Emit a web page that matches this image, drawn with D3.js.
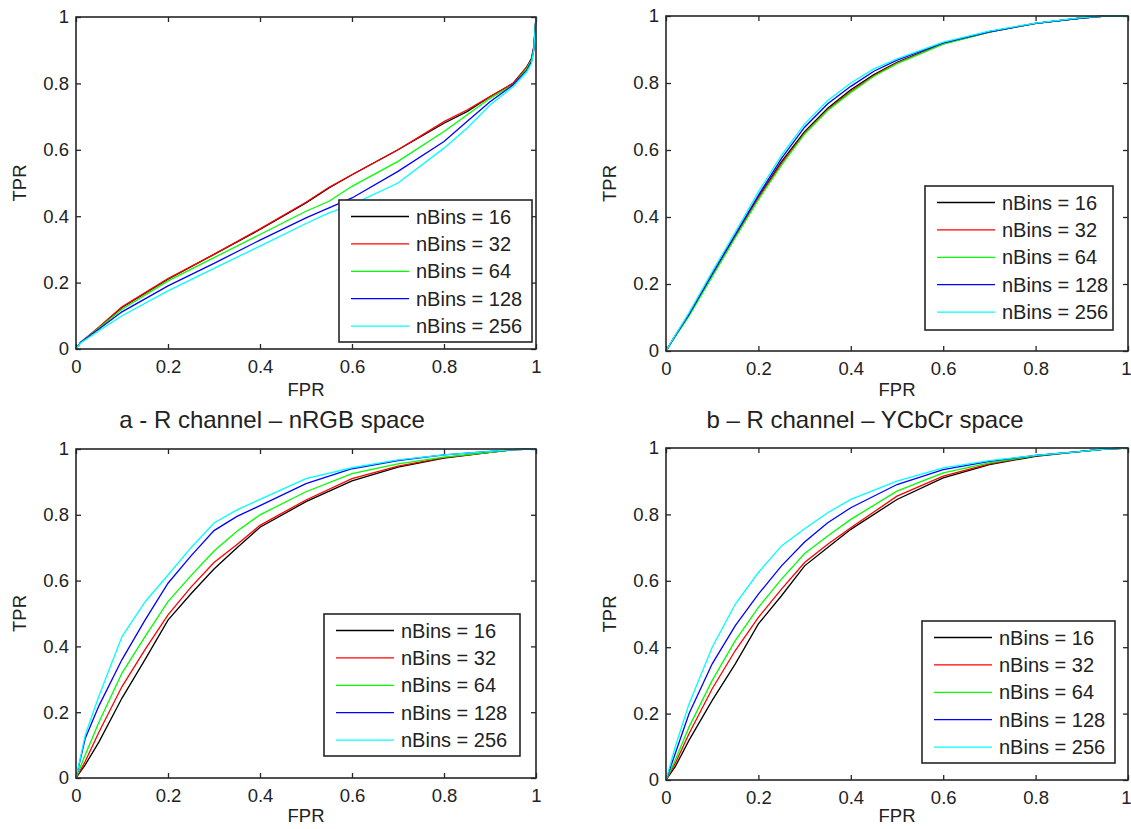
<!DOCTYPE html>
<html>
<head>
<meta charset="utf-8">
<script src="https://cdn.jsdelivr.net/npm/d3@7"></script>
<style>
  body { margin: 0; background: #fff; }
  svg text { font-family: "Liberation Sans", Arial, sans-serif; fill: #222; }
</style>
</head>
<body>
<svg id="canvas" width="1131" height="829"></svg>
<script>
// legend / series
const binLabels = ['nBins = 16', 'nBins = 32', 'nBins = 64', 'nBins = 128', 'nBins = 256']
const lineColors = ['#000000', '#ff0000', '#00ff00', '#0000ff', '#00ffff']
const tickValues = [0, 0.2, 0.4, 0.6, 0.8, 1]
const tickLabels = ['0', '0.2', '0.4', '0.6', '0.8', '1']

// a - R channel, nRGB space
const fprA = [0, 0.01, 0.05, 0.1, 0.2, 0.3, 0.4, 0.5, 0.55, 0.6, 0.7, 0.8, 0.85, 0.9, 0.95, 0.98, 0.99, 0.995, 1]
const tprA16 = [0, 0.02, 0.065, 0.125, 0.21, 0.285, 0.36, 0.44, 0.485, 0.525, 0.6, 0.68, 0.715, 0.76, 0.80, 0.85, 0.875, 0.91, 1]
const tprA32 = [0, 0.02, 0.066, 0.127, 0.212, 0.285, 0.362, 0.442, 0.487, 0.525, 0.6, 0.685, 0.72, 0.76, 0.80, 0.85, 0.87, 0.9, 1]
const tprA64 = [0, 0.02, 0.063, 0.12, 0.205, 0.275, 0.345, 0.415, 0.445, 0.49, 0.565, 0.655, 0.705, 0.755, 0.795, 0.845, 0.87, 0.9, 1]
const tprA128 = [0, 0.02, 0.06, 0.112, 0.19, 0.258, 0.328, 0.395, 0.425, 0.455, 0.535, 0.625, 0.685, 0.745, 0.795, 0.84, 0.865, 0.9, 1]
const tprA256 = [0, 0.018, 0.055, 0.10, 0.175, 0.243, 0.31, 0.378, 0.41, 0.435, 0.5, 0.605, 0.665, 0.735, 0.79, 0.835, 0.86, 0.9, 1]

// b - R channel, YCbCr space
const fprB = [0, 0.02, 0.05, 0.1, 0.15, 0.2, 0.25, 0.3, 0.35, 0.4, 0.45, 0.5, 0.6, 0.7, 0.8, 0.9, 0.95, 1]
const tprB16 = [0, 0.045, 0.11, 0.23, 0.345, 0.46, 0.565, 0.655, 0.725, 0.78, 0.825, 0.862, 0.918, 0.953, 0.978, 0.994, 1, 1]
const tprB32 = [0, 0.045, 0.11, 0.228, 0.343, 0.457, 0.56, 0.65, 0.72, 0.775, 0.822, 0.86, 0.917, 0.952, 0.978, 0.994, 1, 1]
const tprB64 = [0, 0.043, 0.105, 0.222, 0.338, 0.452, 0.555, 0.648, 0.718, 0.772, 0.82, 0.858, 0.916, 0.952, 0.978, 0.994, 1, 1]
const tprB128 = [0, 0.045, 0.11, 0.23, 0.348, 0.465, 0.575, 0.668, 0.738, 0.79, 0.835, 0.868, 0.92, 0.953, 0.978, 0.994, 1, 1]
const tprB256 = [0, 0.047, 0.115, 0.237, 0.355, 0.475, 0.585, 0.678, 0.748, 0.80, 0.842, 0.872, 0.922, 0.955, 0.979, 0.995, 1, 1]

// bottom left
const fprC = [0, 0.02, 0.05, 0.1, 0.15, 0.2, 0.25, 0.3, 0.35, 0.4, 0.5, 0.6, 0.7, 0.8, 0.9, 0.95, 1]
const tprC16 = [0, 0.04, 0.11, 0.243, 0.36, 0.48, 0.56, 0.635, 0.70, 0.762, 0.84, 0.903, 0.945, 0.972, 0.99, 0.998, 1]
const tprC32 = [0, 0.05, 0.14, 0.278, 0.39, 0.496, 0.58, 0.655, 0.71, 0.768, 0.845, 0.91, 0.948, 0.974, 0.99, 0.998, 1]
const tprC64 = [0, 0.07, 0.17, 0.319, 0.43, 0.536, 0.615, 0.69, 0.75, 0.80, 0.87, 0.925, 0.955, 0.975, 0.99, 0.998, 1]
const tprC128 = [0, 0.12, 0.22, 0.36, 0.48, 0.592, 0.675, 0.752, 0.795, 0.828, 0.895, 0.94, 0.965, 0.982, 0.993, 0.998, 1]
const tprC256 = [0, 0.13, 0.25, 0.43, 0.535, 0.617, 0.70, 0.775, 0.815, 0.847, 0.91, 0.943, 0.967, 0.982, 0.993, 0.998, 1]

// bottom right
const fprD = [0, 0.02, 0.05, 0.1, 0.15, 0.2, 0.25, 0.3, 0.35, 0.4, 0.5, 0.6, 0.7, 0.8, 0.9, 0.95, 1]
const tprD16 = [0, 0.04, 0.12, 0.24, 0.35, 0.47, 0.555, 0.645, 0.70, 0.755, 0.845, 0.91, 0.95, 0.975, 0.99, 0.997, 1]
const tprD32 = [0, 0.05, 0.14, 0.275, 0.39, 0.49, 0.575, 0.655, 0.71, 0.76, 0.855, 0.915, 0.952, 0.977, 0.99, 0.997, 1]
const tprD64 = [0, 0.06, 0.16, 0.30, 0.42, 0.52, 0.605, 0.682, 0.735, 0.785, 0.87, 0.925, 0.955, 0.977, 0.99, 0.997, 1]
const tprD128 = [0, 0.08, 0.2, 0.35, 0.465, 0.56, 0.645, 0.717, 0.775, 0.82, 0.89, 0.935, 0.96, 0.978, 0.99, 0.997, 1]
const tprD256 = [0, 0.1, 0.23, 0.4, 0.53, 0.625, 0.705, 0.757, 0.805, 0.845, 0.9, 0.94, 0.962, 0.978, 0.99, 0.997, 1]

const captionA = 'a - R channel \u2013 nRGB space'
const captionB = 'b \u2013 R channel \u2013 YCbCr space'

let svg = d3.select('#canvas')

let panels = [
    { fpr: fprA, tpr: [tprA16, tprA32, tprA64, tprA128, tprA256],
      box: [76, 536, 17, 349], legend: [339, 532, 200, 342], caption: captionA, capX: 272, capY: 428, fprY: 396 },
    { fpr: fprB, tpr: [tprB16, tprB32, tprB64, tprB128, tprB256],
      box: [666, 1128, 16, 351], legend: [925, 1113, 186, 330], caption: captionB, capX: 865, capY: 428, fprY: 396 },
    { fpr: fprC, tpr: [tprC16, tprC32, tprC64, tprC128, tprC256],
      box: [76, 536, 449, 778], legend: [324, 520, 614, 756], fprY: 822 },
    { fpr: fprD, tpr: [tprD16, tprD32, tprD64, tprD128, tprD256],
      box: [666, 1128, 448, 780], legend: [922, 1115, 621, 763], fprY: 822 }
]

let drawPanel = (p) => {
    let [x0, x1, y0, y1] = p.box
    let x = d3.scaleLinear().domain([0, 1]).range([x0, x1])
    let y = d3.scaleLinear().domain([0, 1]).range([y1, y0])
    let g = svg.append('g')

    // inward ticks on all four sides, matlab style
    let fmt = (d, i) => tickLabels[i]
    let bottom = g.append('g').attr('transform', 'translate(0,' + y1 + ')')
        .call(d3.axisBottom(x).tickValues(tickValues).tickFormat(fmt).tickSizeInner(-5).tickSizeOuter(0).tickPadding(11))
    g.append('g').attr('transform', 'translate(' + x0 + ',0)')
        .call(d3.axisLeft(y).tickValues(tickValues).tickFormat(fmt).tickSizeInner(-5).tickSizeOuter(0).tickPadding(7))
    g.append('g').attr('transform', 'translate(0,' + y0 + ')')
        .call(d3.axisTop(x).tickValues(tickValues).tickFormat('').tickSizeInner(-5).tickSizeOuter(0))
    g.append('g').attr('transform', 'translate(' + x1 + ',0)')
        .call(d3.axisRight(y).tickValues(tickValues).tickFormat('').tickSizeInner(-5).tickSizeOuter(0))
    g.selectAll('.domain').remove()
    g.selectAll('.tick line').attr('stroke', '#262626').attr('stroke-width', 1.3)
    g.selectAll('.tick text').attr('font-size', '18.5px').attr('fill', '#222')
    // the last x label sits on the window edge for the right column
    if (x1 > 1100) {
        bottom.selectAll('.tick text').filter((d) => d === 1)
            .attr('text-anchor', 'end').attr('x', 3)
    }

    let line = d3.line().x((d) => x(d[0])).y((d) => y(d[1]))
    p.tpr.forEach((vals, k) => {
        g.append('path')
            .datum(p.fpr.map((f, i) => [f, vals[i]]))
            .attr('d', line)
            .attr('fill', 'none')
            .attr('stroke', lineColors[k])
            .attr('stroke-width', 1.3)
    })

    g.append('rect')
        .attr('x', x0).attr('y', y0)
        .attr('width', x1 - x0).attr('height', y1 - y0)
        .attr('fill', 'none').attr('stroke', '#262626').attr('stroke-width', 1.6)

    g.append('text')
        .attr('x', (x0 + x1) / 2).attr('y', p.fprY)
        .attr('text-anchor', 'middle').attr('font-size', '18.5px')
        .text('FPR')
    g.append('text')
        .attr('transform', 'translate(' + (x0 - 50) + ',' + ((y0 + y1) / 2) + ') rotate(-90)')
        .attr('text-anchor', 'middle').attr('font-size', '18.5px')
        .text('TPR')

    // legend
    let [lx0, lx1, ly0, ly1] = p.legend
    g.append('rect')
        .attr('x', lx0).attr('y', ly0)
        .attr('width', lx1 - lx0).attr('height', ly1 - ly0)
        .attr('fill', '#fff').attr('stroke', '#262626').attr('stroke-width', 1.6)
    binLabels.forEach((lab, k) => {
        let ry = ly0 + 16.5 + k * 27.4
        g.append('line')
            .attr('x1', lx0 + 12).attr('x2', lx0 + 70)
            .attr('y1', ry).attr('y2', ry)
            .attr('stroke', lineColors[k]).attr('stroke-width', 1.3)
        g.append('text')
            .attr('x', lx0 + 77).attr('y', ry + 7)
            .attr('font-size', '20px')
            .text(lab)
    })

    if (p.caption) {
        g.append('text')
            .attr('x', p.capX).attr('y', p.capY)
            .attr('text-anchor', 'middle').attr('font-size', '24px')
            .text(p.caption)
    }
}

panels.forEach(drawPanel)
</script>
</body>
</html>
